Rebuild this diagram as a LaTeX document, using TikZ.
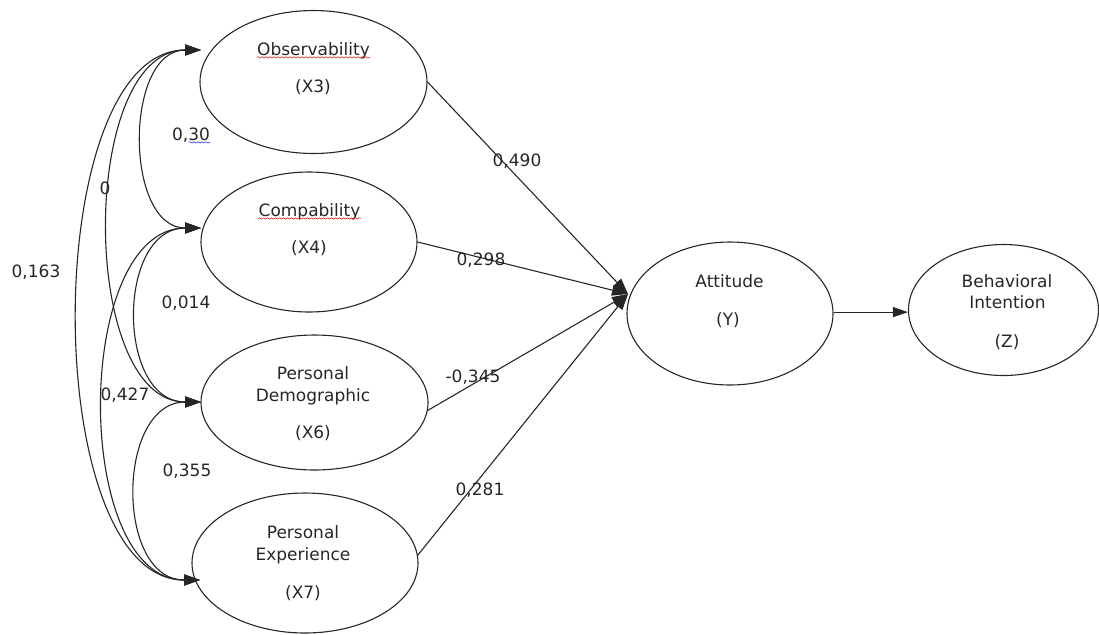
\documentclass[tikz,border=0pt]{standalone}
\usepackage{fontspec}
\setmainfont{DejaVu Sans}
\usepackage{xcolor}
\usepackage{tikz}
\usetikzlibrary{shapes.geometric,arrows.meta,decorations.pathmorphing}
\definecolor{fgline}{HTML}{262626}
\definecolor{fgspell}{HTML}{E02828}
\definecolor{fggrammar}{HTML}{3838E0}

\begin{document}
\begin{tikzpicture}[
        x=0.5pt, y=-0.5pt,
        construct/.style={
            ellipse,
            draw=fgline,
            line width=0.55pt,
            inner sep=0pt
        },
        txt/.style={
            text=fgline,
            font=\fontsize{8.5}{10}\selectfont,
            inner sep=0pt,
            anchor=base
        },
        effect/.style={
            draw=fgline,
            line width=0.55pt,
            -{Triangle[length=8pt,width=5.5pt]}
        },
        corr/.style={
            draw=fgline,
            line width=0.55pt,
            {Triangle[length=8pt,width=5.5pt]}-{Triangle[length=8pt,width=5.5pt]}
        },
        squiggle/.style={
            line width=0.3pt,
            decorate,
            decoration={snake, amplitude=0.35pt, segment length=2pt}
        }
    ]
        \useasboundingbox (0,0) rectangle (1099,634);

        % Exogenous constructs
        \node[construct, minimum width=113.5pt, minimum height=71.5pt] (x3) at (313.5,82) {};
        \node[construct, minimum width=108pt, minimum height=70pt] (x4) at (309,242) {};
        \node[construct, minimum width=113.5pt, minimum height=67.5pt] (x6) at (314.5,402.5) {};
        \node[construct, minimum width=113pt, minimum height=70pt] (x7) at (305,563) {};

        % Endogenous constructs
        \node[construct, minimum width=103pt, minimum height=71.5pt] (att) at (730,313.5) {};
        \node[construct, minimum width=95pt, minimum height=65.5pt] (bi) at (1003.5,310) {};

        % Captions
        \node[txt] (x3-title) at (313.5,55) {Observability};
        \node[txt] at (313,92) {(X3)};
        \node[txt] (x4-title) at (309.5,216) {Compability};
        \node[txt] at (309,253) {(X4)};
        \node[txt] at (313,379) {Personal};
        \node[txt] at (313,401) {Demographic};
        \node[txt] at (313,438) {(X6)};
        \node[txt] at (303,538) {Personal};
        \node[txt] at (303,560) {Experience};
        \node[txt] at (303,598) {(X7)};
        \node[txt] at (729.5,287) {Attitude};
        \node[txt] at (728,325) {(Y)};
        \node[txt] at (1007,287) {Behavioral};
        \node[txt] at (1007.5,308) {Intention};
        \node[txt] at (1007,347) {(Z)};

        % Spelling marks
        \draw[squiggle, fgspell] ([yshift=-1.2pt]x3-title.base west) -- ([yshift=-1.2pt]x3-title.base east);
        \draw[squiggle, fgspell] ([yshift=-1.2pt]x4-title.base west) -- ([yshift=-1.2pt]x4-title.base east);

        % Correlation end points
        \coordinate (x3-in) at (201,50);
        \coordinate (x4-in) at (201,228);
        \coordinate (x6-in) at (201,402);
        \coordinate (x7-in) at (200,580);
        \coordinate (att-in) at (628,294);

        % Correlations
        \draw[corr] (x3-in) to[out=180, in=180, looseness=1.11] (x4-in);
        \draw[corr] (x3-in) to[out=180, in=180, looseness=0.89] (x6-in);
        \draw[corr] (x3-in) to[out=180, in=180, looseness=0.78] (x7-in);
        \draw[corr] (x4-in) to[out=180, in=180, looseness=1.25] (x6-in);
        \draw[corr] (x4-in) to[out=180, in=180, looseness=0.93] (x7-in);
        \draw[corr] (x6-in) to[out=180, in=180, looseness=1.22] (x7-in);

        \node[txt] (r-x3x4) at (191,140) {0,30};
        \node[txt] at (105,194) {0};
        \node[txt] at (36,277) {0,163};
        \node[txt] at (186,308) {0,014};
        \node[txt] at (125,400) {0,427};
        \node[txt] at (187,476) {0,355};
        \draw[squiggle, fggrammar] ([xshift=-10.8pt, yshift=-1.2pt]r-x3x4.base east) -- ([yshift=-1.2pt]r-x3x4.base east);

        % Path coefficients
        \draw[effect] (x3.east) -- (att-in);
        \draw[effect] (x4.east) -- (att-in);
        \draw[effect] (x6.-4) -- (att-in);
        \draw[effect] (x7.4) -- (att-in);
        \draw[effect, -{Triangle[length=7.5pt,width=5pt]}] ([yshift=0.7pt]att.east) -- ([yshift=0.7pt]att.east -| bi.west);

        \node[txt] at (517,166) {0,490};
        \node[txt] at (481,265) {0,298};
        \node[txt] at (473,382) {-0,345};
        \node[txt] at (480,495) {0,281};
    \end{tikzpicture}
\end{document}
